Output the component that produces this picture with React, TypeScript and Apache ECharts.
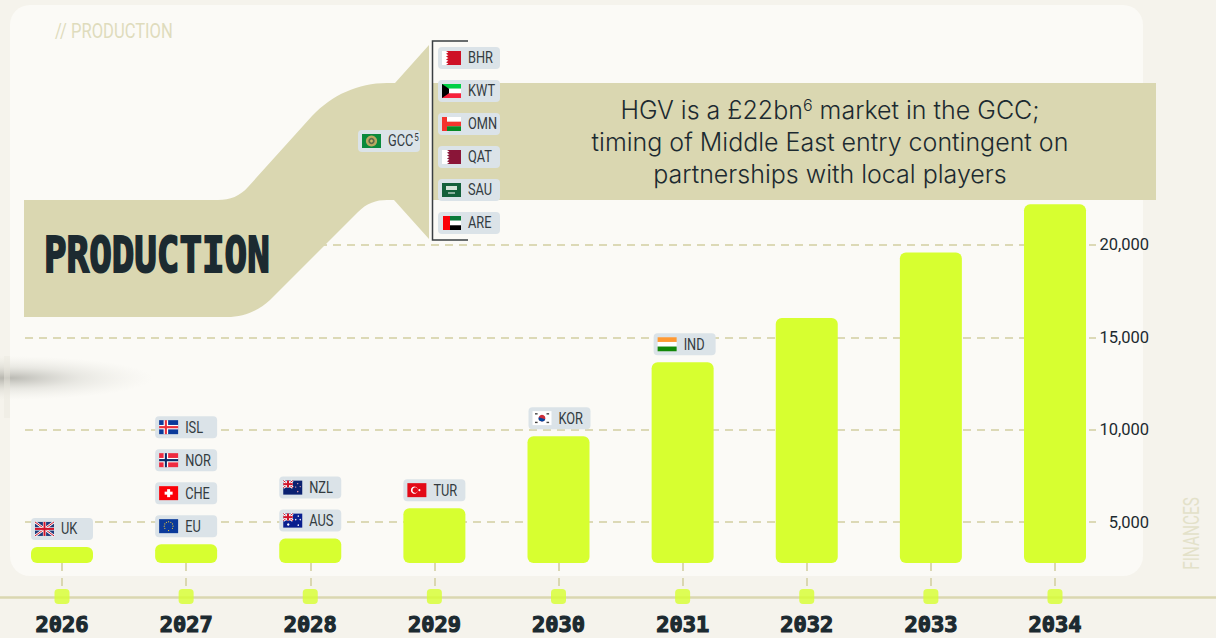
import React, { useEffect, useRef } from "react";
import * as echarts from "echarts";

const years = [2026, 2027, 2028, 2029, 2030, 2031, 2032, 2033, 2034];
const production = [3650, 3800, 4100, 5750, 9650, 13650, 16050, 19600, 22200];
const yTicks = [5000, 10000, 15000, 20000];

const tagCodes = ["UK", "EU", "CHE", "NOR", "ISL", "AUS", "NZL", "TUR", "KOR", "IND"];
const tagYears = [2026, 2027, 2027, 2027, 2027, 2028, 2028, 2029, 2030, 2031];
const tagSlots = [0, 0, 1, 2, 3, 0, 1, 0, 0, 0];
const gulfCodes = ["BHR", "KWT", "OMN", "QAT", "SAU", "ARE"];

const INK = "#1c2a30";
const SAND = "#dad7b1";
const DASH = "#dcd9b6";
const LIME = "#d7ff30";
const TAGBG = "#dbe3e8";
const SANS = "Roboto";

const BAND =
  "M24 200 L218 200 C230 200 240 196 248 187 L312 116 C332 95 358 83 387 83 L395 83 L429 45 L429 239 L394 200 L387 200 C376 200 367 203 358 212 L270 300 C258 311 244 317 227 317 L24 317 Z" +
  "M432 83 L1156 83 L1156 200 L432 200 Z";
echarts.graphic.registerShape("bandPath", (echarts.graphic as any).extendPath(BAND, {}));

const R = (x: number, y: number, width: number, height: number, fill: string) => ({
  type: "rect", shape: { x, y, width, height }, style: { fill },
});
const P = (points: number[][], fill: string) => ({ type: "polygon", shape: { points }, style: { fill } });
const C = (cx: number, cy: number, r: number, fill: string) => ({ type: "circle", shape: { cx, cy, r }, style: { fill } });
const L = (x1: number, y1: number, x2: number, y2: number, stroke: string, lineWidth: number) => ({
  type: "line", shape: { x1, y1, x2, y2 }, style: { stroke, lineWidth },
});

function union(w: number, h: number): any[] {
  return [
    R(0, 0, w, h, "#1f3a7a"),
    L(0, 0, w, h, "#fff", 2.6), L(w, 0, 0, h, "#fff", 2.6),
    L(0, 0, w, h, "#cf142b", 1), L(w, 0, 0, h, "#cf142b", 1),
    R(w / 2 - 1.6, 0, 3.2, h, "#fff"), R(0, h / 2 - 1.6, w, 3.2, "#fff"),
    R(w / 2 - 1, 0, 2, h, "#cf142b"), R(0, h / 2 - 1, w, 2, "#cf142b"),
  ];
}
function zig(x: number): number[][] {
  const pts = [[x, 0]];
  for (let i = 0; i < 5; i++) {
    pts.push([x + 2.4, i * 2.8 + 1.4], [x, (i + 1) * 2.8]);
  }
  return [[19, 0], ...pts, [19, 14]];
}
const W = 19, H = 14;
function flag(code: string): any[] {
  switch (code) {
    case "UK": return union(W, H);
    case "EU": {
      const s: any[] = [R(0, 0, W, H, "#0b3a9a")];
      for (let i = 0; i < 12; i++) {
        s.push(C(9.5 + 4.4 * Math.cos((i * Math.PI) / 6), 7 + 4.4 * Math.sin((i * Math.PI) / 6), 0.55, "#ffd42a"));
      }
      return s;
    }
    case "CHE": return [R(0, 0, W, H, "#fb0007"), R(8, 3, 3, 8, "#fff"), R(5.5, 5.5, 8, 3, "#fff")];
    case "NOR": return [R(0, 0, W, H, "#ee2b40"), R(4.5, 0, 4.5, H, "#fff"), R(0, 4.8, W, 4.4, "#fff"), R(5.7, 0, 2.1, H, "#0b2a66"), R(0, 5.9, W, 2.2, "#0b2a66")];
    case "ISL": return [R(0, 0, W, H, "#0b3a9a"), R(4.5, 0, 4.5, H, "#fff"), R(0, 4.8, W, 4.4, "#fff"), R(5.7, 0, 2.1, H, "#e9323c"), R(0, 5.9, W, 2.2, "#e9323c")];
    case "AUS":
    case "NZL": {
      const s: any[] = [R(0, 0, W, H, code === "AUS" ? "#0a1f8f" : "#0b2170")];
      s.push(...union(9.5, 7));
      if (code === "AUS") s.push(C(5, 10.8, 1.2, "#fff"), C(15, 2.5, 0.7, "#fff"), C(12.5, 6, 0.7, "#fff"), C(17, 6, 0.7, "#fff"), C(15, 11.5, 0.8, "#fff"));
      else s.push(C(14.5, 3, 0.6, "#e9a0b0"), C(12.5, 6.5, 0.6, "#e9a0b0"), C(17, 6, 0.6, "#e9a0b0"), C(14.5, 11, 0.7, "#e9a0b0"));
      return s;
    }
    case "TUR": return [R(0, 0, W, H, "#e30a17"), C(7, 7, 3.5, "#fff"), C(7.9, 7, 2.8, "#e30a17"), C(12, 7, 1, "#fff")];
    case "KOR": return [
      R(0, 0, W, H, "#fff"), C(9.5, 7, 3.4, "#cd2e3a"),
      { type: "sector", shape: { cx: 9.5, cy: 7, r: 3.4, r0: 0, startAngle: 0.3, endAngle: 3.44 }, style: { fill: "#0047a0" } },
      R(2.5, 2, 2.6, 1.4, "#444"), R(14, 2, 2.6, 1.4, "#444"), R(2.5, 10.6, 2.6, 1.4, "#444"), R(14, 10.6, 2.6, 1.4, "#444"),
    ];
    case "IND": return [R(0, 0, W, 4.7, "#ff9933"), R(0, 4.7, W, 4.6, "#fff"), R(0, 9.3, W, 4.7, "#138808")];
    case "BHR": return [R(0, 0, W, H, "#fff"), P(zig(4), "#ce1126")];
    case "QAT": return [R(0, 0, W, H, "#fff"), P(zig(5), "#8a1538")];
    case "KWT": return [R(0, 0, W, 4.7, "#00d044"), R(0, 4.7, W, 4.6, "#fff"), R(0, 9.3, W, 4.7, "#f7213c"), P([[0, 0], [7, 4.7], [7, 9.3], [0, 14]], "#000")];
    case "OMN": return [R(0, 0, W, 4.7, "#fff"), R(0, 4.7, W, 4.6, "#f5332e"), R(0, 9.3, W, 4.7, "#078a25"), R(0, 0, 5, H, "#f5332e")];
    case "SAU": return [R(0, 0, W, H, "#14603a"), R(4, 3, 11, 4, "#d5e4d8"), R(6, 9.5, 7, 1, "#fff")];
    case "ARE": return [R(1, 0, 18, 4.7, "#0b7a3a"), R(1, 4.7, 18, 4.6, "#fff"), R(1, 9.3, 18, 4.7, "#000"), R(1, 0, 7, H, "#fb0007")];
    case "GCC": return [R(0, 0, W, H, "#0a8a3c"), C(9.5, 7, 5.6, "#b9a862"), C(9.5, 7, 3.2, "#5c6b4a"), C(9.5, 7, 1.4, "#c9b96a")];
  }
  return [];
}

function tag(code: string, x: number, y: number, sup?: string): any {
  return {
    type: "group", x, y,
    children: [
      { type: "rect", shape: { x: 0, y: 0, width: 62, height: 22, r: 4 }, style: { fill: TAGBG } },
      { type: "group", x: 4, y: 4, children: flag(code) },
      {
        type: "text", x: 30, y: 11.5, scaleX: 0.8,
        style: {
          x: 0, y: 0, text: sup ? `${code}{s|${sup}}` : code, fill: "#333b40",
          fontSize: 16, fontFamily: SANS, verticalAlign: "middle", align: "left",
          rich: { s: { fontSize: 10, fontFamily: SANS, fill: "#333b40", verticalAlign: "top", padding: [0, 0, 7, 1] } },
        },
      },
    ],
  };
}

function withZ(el: any, z: number): any {
  const out = { ...el, z };
  if (el.children) out.children = el.children.map((c: any) => withZ(c, z));
  return out;
}

const gulfTags = gulfCodes.map((c, i) => tag(c, 438, 47 + i * 33));

const PITCH = 124.125;

export default function App() {
  const ref = useRef<HTMLDivElement>(null);
  useEffect(() => {
    document.body.style.margin = "0";
    document.body.style.background = "#f5f3ec";
    const chart = echarts.init(ref.current!, null, { renderer: "svg" });
    chart.setOption({
      animation: false,
      backgroundColor: "#f5f3ec",
      grid: [
        { left: 25, top: 204, width: 1071, height: 359 },
        { left: 0, top: 596, width: 1216, height: 1 },
      ],
      xAxis: [
        {
          type: "value", gridIndex: 0,
          min: 2026 - 37 / PITCH, max: 2034 + 41 / PITCH,
          axisLine: { show: false }, splitLine: { show: false },
          axisLabel: { show: false },
          axisTick: { show: true, customValues: years, length: 29, lineStyle: { color: SAND, width: 2, type: [8, 7] } },
        },
        {
          type: "value", gridIndex: 1,
          min: 2026 - 62 / PITCH, max: 2034 + 161 / PITCH,
          splitLine: { show: false },
          axisLine: { show: true, onZero: false, lineStyle: { color: SAND, width: 2.5 } },
          axisTick: { show: false, customValues: years },
          axisLabel: {
            show: true, customValues: years, margin: 16, hideOverlap: false,
            formatter: (v: number) => String(v),
            fontFamily: "'DejaVu Sans Mono'", fontWeight: "bold", fontSize: 22, color: INK,
            textBorderColor: INK, textBorderWidth: 1.2,
          },
        },
      ],
      yAxis: [
        {
          type: "value", gridIndex: 0, position: "right",
          min: 2780, max: 22220,
          axisLine: { show: false },
          axisTick: { show: false, customValues: yTicks },
          splitLine: { show: true, lineStyle: { color: DASH, width: 2, type: [8, 6] } },
          axisLabel: {
            show: true, customValues: yTicks, inside: false, margin: 53, align: "right",
            formatter: (v: number) => v.toLocaleString("en-US"),
            fontFamily: SANS, fontSize: 16.5, color: INK,
          },
        },
        { type: "value", gridIndex: 1, show: false, min: 0, max: 1 },
      ],
      series: [
        {
          type: "bar", xAxisIndex: 0, yAxisIndex: 0, barWidth: 62, z: 3,
          data: years.map((y, i) => [y, production[i]]),
          itemStyle: { color: LIME, borderRadius: 6 },
        },
        {
          type: "scatter", xAxisIndex: 1, yAxisIndex: 1, symbol: "roundRect", symbolSize: 15, clip: false, z: 4,
          data: years.map((y) => [y, 0.5]),
          itemStyle: { color: LIME },
        },
        {
          type: "custom", xAxisIndex: 0, yAxisIndex: 0, clip: false, z: 5,
          data: tagCodes.map((_, i) => [tagYears[i], production[years.indexOf(tagYears[i])]]),
          encode: { x: 0, y: 1 },
          renderItem: (params: any, api: any) => {
            const p = api.coord([api.value(0), api.value(1)]);
            const i = params.dataIndex;
            const y = p[1] - 29 - tagSlots[i] * 33;
            const nudge = tagYears[i] >= 2030 ? tagYears[i] - 2029 : 0;
            return tag(tagCodes[i], p[0] - 31 + nudge, y);
          },
        },
      ],
      graphic: {
        elements: [
          { type: "rect", z: -10, shape: { x: 10, y: 5, width: 1133, height: 571, r: 20 }, style: { fill: "#fbfaf6" } },
          {
            type: "ellipse", z: -9, shape: { cx: 8, cy: 378, rx: 145, ry: 22 },
            style: {
              fill: {
                type: "radial", x: 0.5, y: 0.5, r: 0.5,
                colorStops: [
                  { offset: 0, color: "rgba(120,120,112,0.5)" },
                  { offset: 0.5, color: "rgba(160,160,150,0.2)" },
                  { offset: 1, color: "rgba(200,200,190,0)" },
                ],
              },
            },
          },
          { type: "rect", z: -9, shape: { x: 4, y: 356, width: 6, height: 62 }, style: { fill: "rgba(235,233,225,0.45)" } },
          { type: "bandPath", z: 1, x: 0, y: 0, style: { fill: SAND } },
          { type: "polyline", z: 6, shape: { points: [[468, 41], [432.5, 41], [432.5, 240], [468, 240]] }, style: { stroke: "#3a3f42", lineWidth: 1.5, fill: "none" } },
          {
            type: "text", z: 6, x: 44, y: 254, scaleX: 0.75, style: {
              x: 0, y: 0, text: "PRODUCTION", fill: INK, stroke: INK, lineWidth: 2,
              fontFamily: "'DejaVu Sans Mono'", fontWeight: "bold", fontSize: 50, verticalAlign: "middle",
            },
          },
          {
            type: "text", z: 6, x: 55, y: 31, scaleX: 0.79, style: {
              x: 0, y: 0, text: "// PRODUCTION", fill: "#dfdcbd",
              fontFamily: SANS, fontSize: 21, verticalAlign: "middle",
            },
          },
          {
            type: "text", z: 6, x: 1191, y: 533.5, rotation: Math.PI / 2, scaleX: 0.7, style: {
              x: 0, y: 0, text: "FINANCES", fill: "#e3e1c9", align: "center", verticalAlign: "middle",
              fontFamily: SANS, fontSize: 22,
            },
          },
          {
            type: "text", z: 6, style: {
              x: 830, y: 110, text: "HGV is a £22bn{s|6} market in the GCC;", fill: INK, align: "center", verticalAlign: "middle",
              fontFamily: "Inter", fontSize: 25, fontWeight: 300,
              rich: { s: { fontFamily: "Inter", fontSize: 16, fill: INK, fontWeight: 300, verticalAlign: "top", padding: [0, 0, 10, 0] } },
            },
          },
          {
            type: "text", z: 6, style: {
              x: 830, y: 142, text: "timing of Middle East entry contingent on", fill: INK, align: "center", verticalAlign: "middle",
              fontFamily: "Inter", fontSize: 25, fontWeight: 300,
            },
          },
          {
            type: "text", z: 6, style: {
              x: 830, y: 174, text: "partnerships with local players", fill: INK, align: "center", verticalAlign: "middle",
              fontFamily: "Inter", fontSize: 25, fontWeight: 300,
            },
          },
          withZ(tag("GCC", 358, 130, "5"), 6),
          ...gulfTags.map((t) => withZ(t, 6)),
        ],
      },
    });
    return () => chart.dispose();
  }, []);
  return <div ref={ref} style={{ position: "absolute", left: 0, top: 0, width: 1216, height: 638 }} />;
}
